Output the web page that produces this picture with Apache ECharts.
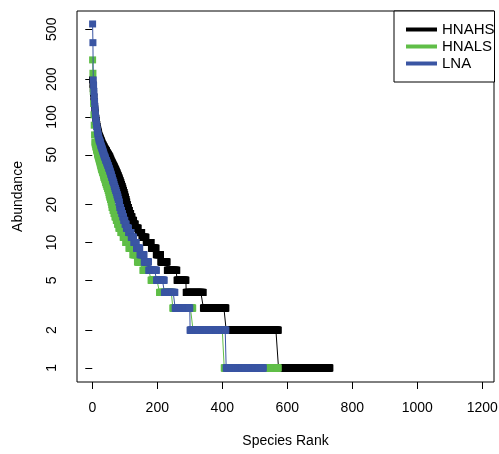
<!DOCTYPE html>
<html><head><meta charset="utf-8">
<script src="https://cdn.jsdelivr.net/npm/echarts@6/dist/echarts.min.js"></script>
<style>html,body{margin:0;padding:0;background:#fff}#c{width:499px;height:454px}</style>
</head><body><div id="c"></div>
<script>
// ---- data (abundance levels and number of species at each level, by rank order) ----
const seriesNames = ['HNAHS', 'HNALS', 'LNA'];
const seriesColors = ['#000000', '#60BE48', '#3A55A3'];
const xTicks = [0, 200, 400, 600, 800, 1000, 1200];
const yTicks = [1, 2, 5, 10, 20, 50, 100, 200, 500];

const hnahsAbundance = [198,182,168,155,143,133,124,116,109,103,98,94,90,87,84,81,79,77,75,73,71,70,69,68,67,66,65,64,63,62,
  61,60,59,58,57,56,55,54,53,52,51,50,
  49,48,47,46,45,44,43,42,41,40,39,38,37,36,35,
  34,33,32,31,30,29,28,27,26,25,24,23,22,21,20,
  19,18,17,16,15,14,
  13,12,11,10,9,8,7,6,5,4,3,2,1];
const hnahsCount = [1,1,1,1,1,1,1,1,1,1,1,1,1,1,1,1,1,1,1,1,1,1,1,1,1,1,1,1,1,1,
  1,2,1,2,1,2,2,2,1,2,2,2,
  2,2,1,2,1,2,2,2,2,2,2,2,2,2,2,
  2,2,2,2,2,2,2,2,2,2,2,2,2,2,2,
  3,3,4,4,5,5,
  9,11,13,16,15,14,20,30,28,53,70,161,159];

const hnalsAbundance = [285,223,160,128,104,86,72,63,61,60,58,57,55,54,53,51,50,
  49,48,47,46,45,44,43,42,41,40,39,38,37,36,35,
  34,33,32,31,30,29,28,27,26,25,24,23,22,21,20,
  19,18,17,16,15,14,
  13,12,11,10,9,8,7,6,5,4,3,2,1];
const hnalsCount = [1,1,1,1,1,1,1,1,1,1,1,1,1,1,1,1,1,
  1,1,1,1,1,1,1,1,1,1,1,2,1,2,1,
  1,2,2,1,2,2,2,2,2,1,2,2,2,2,1,
  3,3,3,4,4,4,
  6,7,8,10,12,14,17,25,26,41,62,96,167];

const lnaAbundance = [551,391,197,178,160,145,132,121,112,104,97,92,88,84,80,77,74,72,70,68,66,65,
  64,63,62,60,59,58,57,56,55,54,53,52,51,50,
  49,48,47,46,45,44,43,42,41,40,39,38,37,36,35,
  34,33,32,31,30,29,28,27,26,25,24,23,22,21,20,
  19,18,17,16,15,14,
  13,12,11,10,9,8,7,6,5,4,3,2,1];
const lnaCount = [1,1,1,1,1,1,1,1,1,1,1,1,1,1,1,1,1,1,1,1,1,1,
  1,1,1,1,1,1,1,1,1,1,1,1,1,1,
  1,2,1,1,2,1,2,1,2,1,2,1,2,1,2,
  1,2,1,2,2,1,2,2,2,2,2,2,2,2,1,
  3,3,3,3,4,4,
  7,8,8,8,11,13,14,24,24,33,46,111,115];

// expand level/count runs into rank-abundance points
function rankPoints(ab, cnt) {
  const pts = []; let r = 1;
  for (let i = 0; i < ab.length; i++) {
    for (let j = 0; j < cnt[i]; j++) { pts.push([r, ab[i]]); r++; }
  }
  return pts;
}
const allData = [rankPoints(hnahsAbundance, hnahsCount), rankPoints(hnalsAbundance, hnalsCount), rankPoints(lnaAbundance, lnaCount)];

const FONT = 'Liberation Sans, Arial, Helvetica, sans-serif';
const chart = echarts.init(document.getElementById('c'), null, {renderer: 'canvas'});
chart.setOption({
  animation: false,
  backgroundColor: '#ffffff',
  grid: {left: 77, top: 11, width: 417, height: 371, show: true, borderColor: '#000', borderWidth: 1, backgroundColor: 'transparent', containLabel: false, outerBoundsMode: 'none'},
  xAxis: {
    type: 'value', min: -47, max: 1236,
    name: 'Species Rank', nameLocation: 'middle', nameGap: 52,
    nameTextStyle: {fontFamily: FONT, fontSize: 14, color: '#000'},
    axisLine: {show: false},
    axisTick: {show: true, length: 7, lineStyle: {color: '#000', width: 1}, customValues: xTicks},
    axisLabel: {show: true, customValues: xTicks, margin: 19, fontFamily: FONT, fontSize: 14, color: '#000', formatter: v => String(Math.round(v))},
    splitLine: {show: false}
  },
  yAxis: {
    type: 'log', logBase: 10, min: 0.773, max: 699,
    name: 'Abundance', nameLocation: 'middle', nameGap: 52, nameRotate: 90,
    nameTextStyle: {fontFamily: FONT, fontSize: 14, color: '#000'},
    axisLine: {show: false},
    axisTick: {show: true, length: 7, lineStyle: {color: '#000', width: 1}, customValues: yTicks},
    axisLabel: {show: true, customValues: yTicks, rotate: 90, margin: 18, fontFamily: FONT, fontSize: 14, color: '#000', formatter: v => String(Math.round(v))},
    splitLine: {show: false}, minorTick: {show: false}
  },
  legend: {
    orient: 'vertical', left: 394, top: 11,
    padding: [11, 0, 11, 12], itemGap: 2, itemWidth: 31, itemHeight: 4, icon: 'rect',
    backgroundColor: '#fff', borderColor: '#000', borderWidth: 1, borderRadius: 0,
    textStyle: {fontFamily: FONT, fontSize: 15, color: '#000'},
    data: seriesNames, z: 10
  },
  series: seriesNames.map((n, i) => ({
    name: n, type: 'line', data: allData[i],
    color: seriesColors[i],
    symbol: 'rect', symbolSize: 7, showAllSymbol: true, showSymbol: true,
    lineStyle: {width: 1, color: seriesColors[i]},
    itemStyle: {color: seriesColors[i]},
    emphasis: {disabled: true}, sampling: null, z: 2 + i
  }))
});
</script></body></html>
